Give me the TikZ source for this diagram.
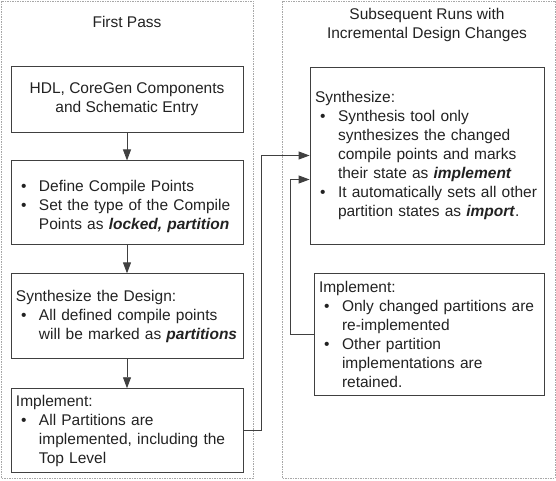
\documentclass[tikz,border=0pt]{standalone}
\usepackage{fontspec}
\setmainfont{Liberation Sans}
\usetikzlibrary{positioning, arrows.meta, calc}

\definecolor{linegray}{HTML}{404040}
\definecolor{framegray}{HTML}{A8A8A8}
\definecolor{inkgray}{HTML}{222222}

\newcommand{\bi}[1]{\textbf{\textit{#1}}}
\newcommand{\nl}{\hfil\break}
\newcommand{\headline}[1]{\noindent\hspace*{5pt}#1\par}
\newcommand{\bulletline}[1]{\par\hangindent=28pt\hangafter=1\noindent\hspace*{10pt}\makebox[18pt][l]{\textbullet}#1\par}

\tikzset{
  pass box/.style={draw=linegray, line width=0.9pt, inner sep=0pt, text=inkgray,
    font=\fontsize{15.5}{19}\selectfont, align=left},
  title text/.style={text=inkgray, font=\fontsize{15.5}{19}\selectfont, align=center},
  flow line/.style={draw=linegray, line width=0.9pt, -{Triangle[length=11pt,width=8pt]}},
  run frame/.style={draw=framegray, line width=0.8pt, dash pattern=on 1.5pt off 1pt}
}

\begin{document}
\begin{tikzpicture}[x=1pt, y=-1pt]
		\useasboundingbox (0,0) rectangle (556,480);
		\draw[run frame] (1,1) rectangle (253,478);
		\draw[run frame] (282,1) rectangle (555,478);

		\node[title text] (firsttitle) at (127,22) {First Pass};
		\node[title text] (nexttitle) at (427,25) {Subsequent Runs with\\Incremental Design Changes};

		\node[pass box, align=center, minimum width=232pt, minimum height=66pt] (hdl) at (127,99)
			{HDL, CoreGen Components\\and Schematic Entry};
		\node[pass box, text width=232pt, minimum height=84pt, below=28pt of hdl] (define)
			{\bulletline{Define Compile Points}%
			 \bulletline{Set the type of the Compile\nl Points as \bi{locked, partition}}};
		\node[pass box, text width=232pt, minimum height=85pt, below=28pt of define] (synthfirst)
			{\headline{Synthesize the Design:}%
			 \bulletline{All defined compile points\nl will be marked as \bi{partitions}}};
		\node[pass box, text width=232pt, minimum height=84pt, below=29pt of synthfirst] (implfirst)
			{\headline{Implement:}%
			 \bulletline{All Partitions are\nl implemented, including the\nl Top Level}};

		\node[pass box, text width=234pt, minimum height=177pt] (synthnext) at (427,155.5)
			{\headline{Synthesize:}%
			 \bulletline{Synthesis tool only\nl synthesizes the changed\nl compile points and marks\nl their state as \bi{implement}}%
			 \bulletline{It automatically sets all other\nl partition states as \bi{import}.}};
		\node[pass box, text width=230pt, minimum height=122pt] (implnext) at (429,334)
			{\headline{Implement:}%
			 \bulletline{Only changed partitions are\nl re-implemented}%
			 \bulletline{Other partition\nl implementations are\nl retained.}};

		\coordinate (synthin) at ($(synthnext.west)+(0,24)$);

		\draw[flow line] (hdl) -- (define);
		\draw[flow line] (define) -- (synthfirst);
		\draw[flow line] (synthfirst) -- (implfirst);
		%
		\draw[flow line] (implfirst.east) -- ++(18,0) |- (synthnext.west);
		%
		\draw[flow line] (implnext.west) -- ++(-23,0) |- (synthin);
\end{tikzpicture}
\end{document}
